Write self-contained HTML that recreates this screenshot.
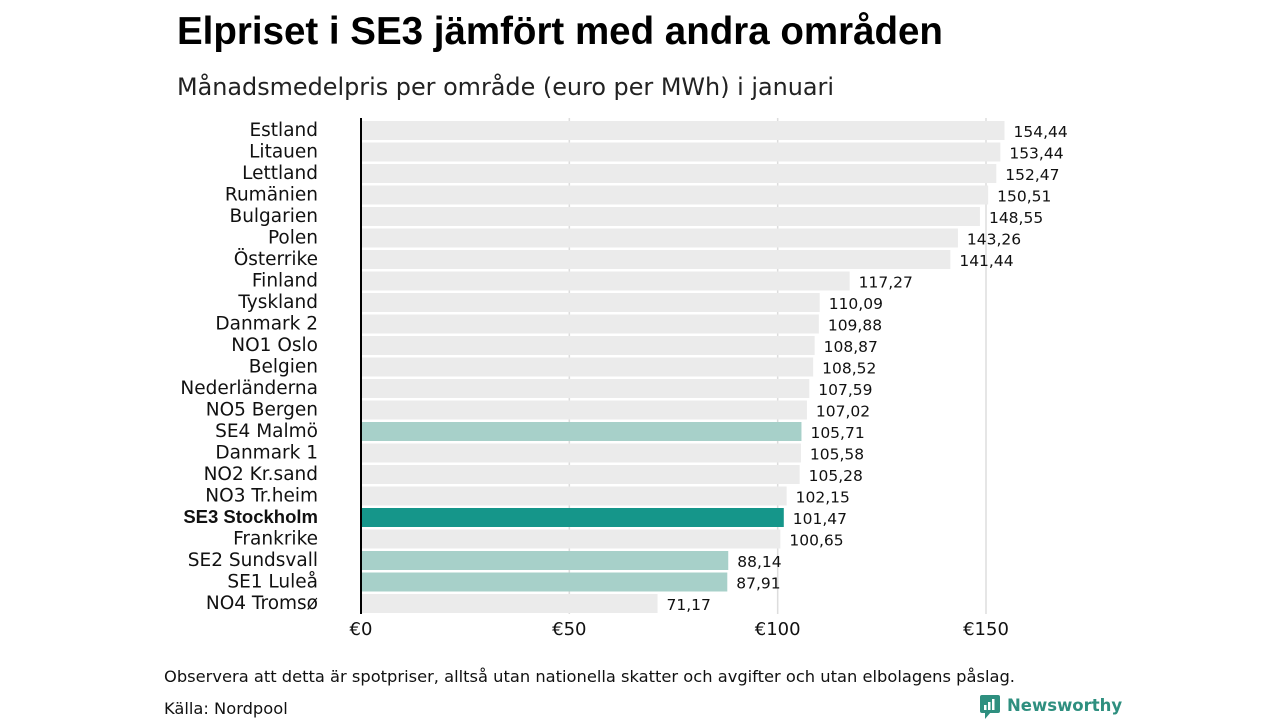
<!DOCTYPE html>
<html><head><meta charset="utf-8"><style>
body{margin:0;background:#fff;width:1280px;height:720px;overflow:hidden;font-family:"Liberation Sans",sans-serif}
svg text{font-family:"DejaVu Sans","Liberation Sans",sans-serif}
</style></head><body>
<svg id="chart" width="1280" height="720">
<text x="177" y="44" font-size="38.5" font-weight="bold" style="font-family:'Liberation Sans',sans-serif">Elpriset i SE3 jämfört med andra områden</text>
<text x="177" y="95" font-size="23.9" fill="#222">Månadsmedelpris per område (euro per MWh) i januari</text>
<g id="grid"></g><g id="bars"></g>
<line x1="361" y1="118" x2="361" y2="614" stroke="#000" stroke-width="2"/>
<text x="164" y="682" font-size="16.3" fill="#111">Observera att detta är spotpriser, alltså utan nationella skatter och avgifter och utan elbolagens påslag.</text>
<text x="164" y="714" font-size="16.3" fill="#111">Källa: Nordpool</text>
<g>
<rect x="980" y="695" width="20" height="18" rx="2" fill="#2e8f7f"/>
<polygon points="985,712 991,712 985,719" fill="#2e8f7f"/>
<rect x="984" y="705" width="2.5" height="5" fill="#fff"/><rect x="988" y="702" width="2.5" height="8" fill="#fff"/><rect x="992" y="699" width="2.5" height="11" fill="#fff"/>
<text x="1007" y="711" font-size="16.5" font-weight="bold" fill="#2e8f7f">Newsworthy</text>
</g>
</svg>
<script>
const categories=["Estland","Litauen","Lettland","Rumänien","Bulgarien","Polen","Österrike","Finland","Tyskland","Danmark  2","NO1 Oslo","Belgien","Nederländerna","NO5 Bergen","SE4  Malmö","Danmark  1","NO2 Kr.sand","NO3 Tr.heim","SE3 Stockholm","Frankrike","SE2  Sundsvall","SE1  Luleå","NO4 Tromsø"];
const values=[154.44,153.44,152.47,150.51,148.55,143.26,141.44,117.27,110.09,109.88,108.87,108.52,107.59,107.02,105.71,105.58,105.28,102.15,101.47,100.65,88.14,87.91,71.17];
const ticks=[0,50,100,150];
const tickLabels=["€0","€50","€100","€150"];
const NS="http://www.w3.org/2000/svg";
const x=v=>361+v*625/150;
const y=i=>121+i*21.5;
function mk(t,a,p){const e=document.createElementNS(NS,t);for(const k in a)e.setAttribute(k,a[k]);p.appendChild(e);return e;}
const grid=document.getElementById('grid'),bars=document.getElementById('bars');
ticks.forEach((t,i)=>{
 if(t>0){const l=mk('line',{x1:x(t),x2:x(t),y1:118,y2:614,stroke:'#ddd','stroke-width':1.5},grid);
 
 }
 const tx=mk('text',{x:x(t),y:635,'font-size':18,'text-anchor':'middle',fill:'#111'},grid);
 tx.textContent=tickLabels[i];
 
 
});
categories.forEach((c,i)=>{
 const se3=c==="SE3 Stockholm";
 const se=c.startsWith("SE");
 const r=mk('rect',{x:361,y:y(i),width:x(values[i])-361,height:19,fill:se3?'#15968a':se?'#a7d0c9':'#ebebeb'},bars);
 
 
 const lb=mk('text',{x:318,y:y(i)+15,'font-size':18.5,'text-anchor':'end',fill:'#111'},bars);
 if(se3){lb.setAttribute('font-weight','bold');lb.setAttribute('style',"font-family:'Liberation Sans',sans-serif");}
 lb.textContent=c;
 
 
 const vl=mk('text',{x:x(values[i])+9,y:y(i)+16,'font-size':15.5,fill:'#111'},bars);
 vl.textContent=values[i].toFixed(2).replace('.',',');
 
 
});
</script>
</body></html>
